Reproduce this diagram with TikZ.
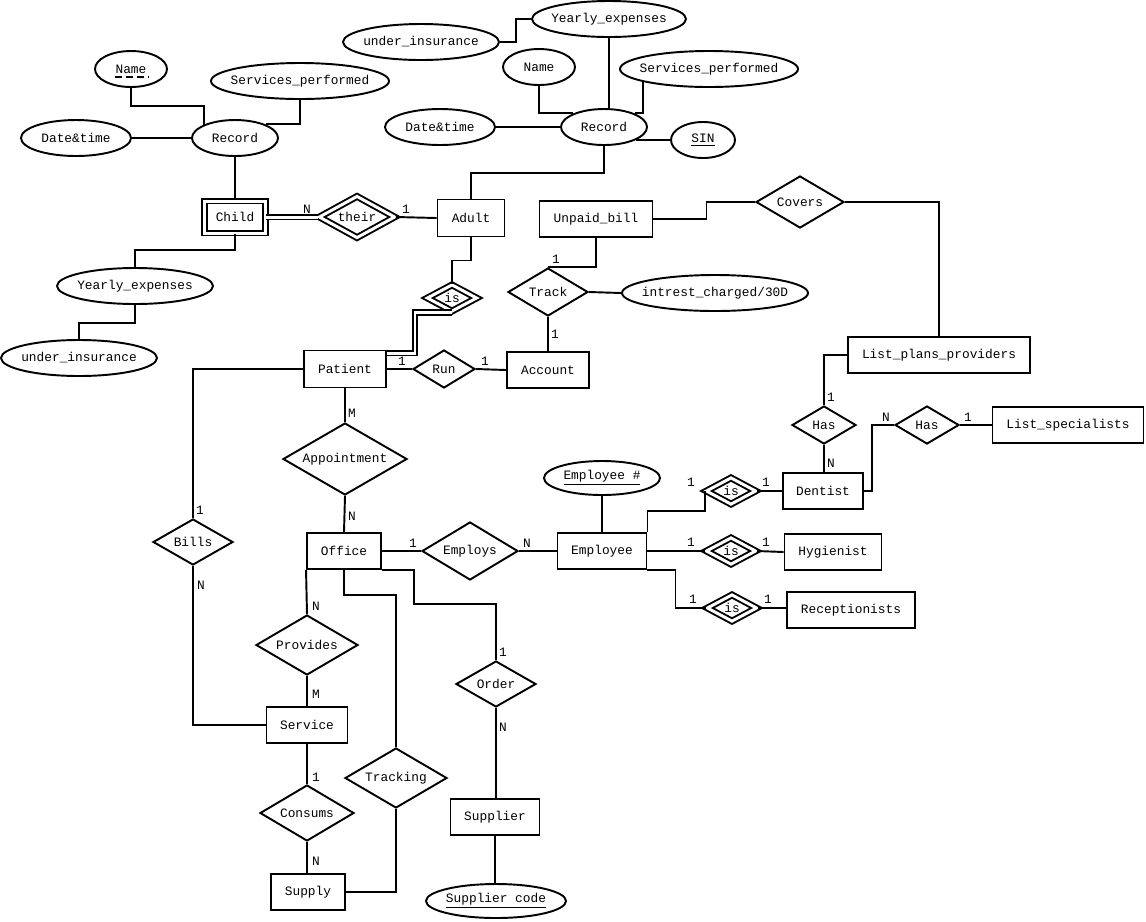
\documentclass[tikz,border=0pt]{standalone}
\usepackage{fontspec}
\usetikzlibrary{shapes.geometric}
\newfontfamily\ermono{Liberation Mono}

\begin{document}
\begin{tikzpicture}[x=0.02cm,y=-0.02cm,line width=1.1pt,
  font=\ermono\fontsize{7.3}{8}\selectfont,
  sz/.style 2 args={minimum width=#1*0.02cm,minimum height=#2*0.02cm}]
  \tikzstyle{entity}=[rectangle,draw,inner sep=0pt]
  \tikzstyle{weakentity}=[entity,double,double distance=1.7pt]
  \tikzstyle{attr}=[ellipse,draw,inner sep=-12pt]
  \tikzstyle{rel}=[diamond,draw,inner sep=0pt,aspect=1.7]
  \tikzstyle{weakrel}=[rel,double,double distance=1.7pt]
  \tikzstyle{dbl}=[double,double distance=1.7pt]
  \tikzstyle{card}=[inner sep=0pt]

  \useasboundingbox (0,0) rectangle (1146,921);

  % child side
  \node[attr,sz={72}{36}] (nameL) at (131,69) {Name};
  \draw[dash pattern=on 4pt off 2.2pt] (115,77) -- (148,77);
  \node[attr,sz={178}{36}] (servL) at (300,81) {Services\_performed};
  \node[attr,sz={110}{36}] (dateL) at (76,138) {Date\&time};
  \node[attr,sz={86}{36}] (recL) at (235,138) {Record};
  \node[weakentity,sz={61}{32}] (child) at (235,217) {Child};
  \node[weakrel,sz={76}{42}] (their) at (357,217) {their};
  \node[entity,sz={67}{37}] (adult) at (471,218) {Adult};
  \node[attr,sz={156}{36}] (yearL) at (135,286) {Yearly\_expenses};
  \node[attr,sz={156}{36}] (underL) at (79,358) {under\_insurance};

  % adult side
  \node[attr,sz={154}{36}] (yearT) at (609,19) {Yearly\_expenses};
  \node[attr,sz={156}{36}] (underT) at (421,42) {under\_insurance};
  \node[attr,sz={72}{36}] (nameT) at (539,67) {Name};
  \node[attr,sz={178}{36}] (servT) at (709,69) {Services\_performed};
  \node[attr,sz={110}{36}] (dateT) at (440,127) {Date\&time};
  \node[attr,sz={86}{36}] (recT) at (604,127) {Record};
  \node[attr,sz={64}{36}] (sin) at (703,140) {\underline{SIN}};

  \node[entity,sz={113}{36}] (unpaid) at (596,219) {Unpaid\_bill};
  \node[rel,sz={88}{52}] (covers) at (800,202) {Covers};
  \node[rel,sz={80}{48}] (track) at (548,292) {Track};
  \node[attr,sz={186}{36}] (intr) at (715,293) {intrest\_charged/30D};
  \node[entity,sz={82}{36}] (acc) at (548,370) {Account};
  \node[entity,sz={182}{36}] (lpp) at (939,355) {List\_plans\_providers};
  \node[weakrel,sz={50}{27}] (isA) at (452,298) {is};
  \node[entity,sz={82}{37}] (pat) at (345,369) {Patient};
  \node[rel,sz={62}{38}] (run) at (444,369) {Run};
  \node[rel,sz={124}{72}] (appt) at (345,459) {Appointment};

  % staff
  \node[rel,sz={64}{38}] (hasL) at (824,425) {Has};
  \node[rel,sz={64}{38}] (hasR) at (927,425) {Has};
  \node[entity,sz={151}{36}] (lspec) at (1068,425) {List\_specialists};
  \node[entity,sz={80}{36}] (dent) at (823,491) {Dentist};
  \node[attr,sz={116}{34}] (empno) at (602,478) {\underline{Employee \#}};
  \node[weakrel,sz={50}{27}] (isD) at (731,491) {is};
  \node[weakrel,sz={50}{27}] (isH) at (731,551) {is};
  \node[weakrel,sz={50}{27}] (isR) at (732,608) {is};
  \node[entity,sz={97}{36}] (hyg) at (833,552) {Hygienist};
  \node[entity,sz={128}{36}] (recp) at (851,610) {Receptionists};
  \node[entity,sz={89}{36}] (emp) at (602,551) {Employee};
  \node[rel,sz={96}{58}] (employs) at (470,551) {Employs};

  % office
  \node[entity,sz={74}{36}] (office) at (344,551) {Office};
  \node[rel,sz={80}{46}] (bills) at (193,542) {Bills};
  \node[rel,sz={102}{60}] (prov) at (307,645) {Provides};
  \node[rel,sz={80}{46}] (order) at (496,684) {Order};
  \node[entity,sz={81}{36}] (serv) at (307,725) {Service};
  \node[rel,sz={102}{60}] (trk) at (396,778) {Tracking};
  \node[rel,sz={94}{56}] (cons) at (307,813) {Consums};
  \node[entity,sz={89}{36}] (supl) at (495,817) {Supplier};
  \node[entity,sz={74}{36}] (supply) at (308,892) {Supply};
  \node[attr,sz={140}{34}] (supcode) at (496,901) {\underline{Supplier code}};

  % connectors
  \draw (nameL.south) -- ++(0,18) -| (recL.157);
  \draw (servL.south) |- (recL.24);
  \draw (dateL.east) -- (recL.west);
  \draw (recL.south) -- (child.north);
  \draw (child.south) -- ++(0,16) -| (yearL.north);
  \draw (yearL.south) -- ++(0,18) -| (underL.north);
  \draw[dbl] (child.east) -- (their.west);
  \draw (their.east) -- (adult.west);

  \draw (underT.east) -- ++(16,0) |- (yearT.west);
  \draw (yearT.south) -- (yearT.south |- recT.north);
  \draw (nameT.south) |- (recT.156);
  \draw (servT.191) |- (recT.24);
  \draw (dateT.east) -- (recT.west);
  \draw (recT.-22) -- (sin.west);
  \draw (recT.south) -- ++(0,27) -| (adult.north);
  \draw (adult.south) -- ++(0,23) -| (isA.north);
  \draw[dbl] (isA.south) -| (415,353) -- (pat.east |- 0,353);

  \draw (pat.east) -- (run.west);
  \draw (run.east) -- (acc.west);
  \draw (unpaid.south) |- (track.north);
  \draw (track.south) -- (acc.north);
  \draw (track.east) -- (intr.west);
  \draw (unpaid.east) -- ++(53,0) |- (covers.west);
  \draw (covers.east) -| (lpp.north);
  \draw (lpp.west) -| (hasL.north);
  \draw (hasL.south) -- (dent.north -| hasL.south);
  \draw (dent.east) -- ++(8,0) |- (hasR.west);
  \draw (hasR.east) -- (lspec.west);

  \draw (pat.west) -| (bills.north);
  \draw (bills.south) |- (serv.west);
  \draw (pat.south) -- (appt.north);
  \draw (appt.south) -- (office.north);
  \draw (office.east) -- (employs.west);
  \draw (employs.east) -- (emp.west);
  \draw (empno.south) -- (emp.north);
  \draw (emp.north east) -- ++(0,-21) -| (isD.west);
  \draw (isD.east) -- (dent.west);
  \draw (emp.east) -- (isH.west);
  \draw (isH.east) -- (hyg.west);
  \draw (emp.south east) -- ++(28,0) |- (isR.west);
  \draw (isR.east) -- (recp.west |- isR.east);

  \draw (office.south west) -- (prov.north);
  \draw (prov.south) -- (serv.north);
  \draw (office.south) -- ++(0,25) -| (trk.north);
  \draw (office.south east) -| (414,604) -| (order.north);
  \draw (order.south) -- (supl.north -| order.south);
  \draw (supl.south) -- (supcode.north -| supl.south);
  \draw (serv.south) -- (cons.north);
  \draw (cons.south) -- (supply.north -| cons.south);
  \draw (trk.south) |- (supply.east);

  % cardinalities
  \node[card] (k1) at (307,209) {N};
  \node[card] (k2) at (406,209) {1};
  \node[card] (k3) at (402,361) {1};
  \node[card] (k4) at (485,361) {1};
  \node[card] (k5) at (556,259) {1};
  \node[card] (k6) at (555,334) {1};
  \node[card] (k7) at (831,397) {1};
  \node[card] (k8) at (831,463) {N};
  \node[card] (k9) at (886,417) {N};
  \node[card] (k10) at (968,417) {1};
  \node[card] (k11) at (200,510) {1};
  \node[card] (k12) at (201,585) {N};
  \node[card] (k13) at (352,413) {M};
  \node[card] (k14) at (352,516) {N};
  \node[card] (k15) at (413,543) {1};
  \node[card] (k16) at (527,543) {N};
  \node[card] (k17) at (691,482) {1};
  \node[card] (k18) at (766,482) {1};
  \node[card] (k19) at (691,542) {1};
  \node[card] (k20) at (766,542) {1};
  \node[card] (k21) at (693,599) {1};
  \node[card] (k22) at (768,599) {1};
  \node[card] (k23) at (316,606) {N};
  \node[card] (k24) at (316,694) {M};
  \node[card] (k25) at (503,652) {1};
  \node[card] (k26) at (503,727) {N};
  \node[card] (k27) at (316,777) {1};
  \node[card] (k28) at (316,861) {N};
\end{tikzpicture}
\end{document}
